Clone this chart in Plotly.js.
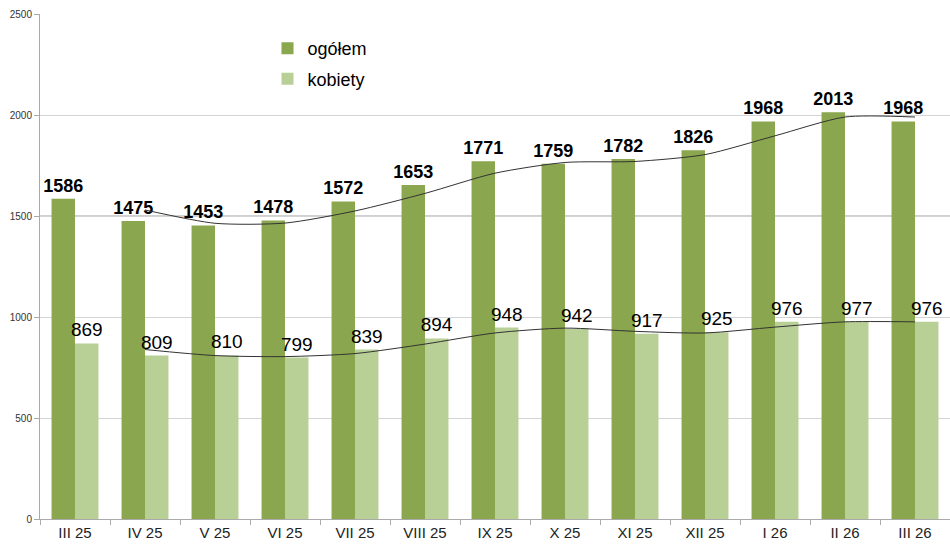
<!DOCTYPE html>
<html>
<head>
<meta charset="utf-8">
<script src="https://cdn.plot.ly/plotly-3.0.1.min.js"></script>
<style>html,body{margin:0;padding:0;background:#fff;}#chart{width:950px;height:544px;}</style>
</head>
<body>
<div id="chart"></div>
<script>
const categories = ["III 25","IV 25","V 25","VI 25","VII 25","VIII 25","IX 25","X 25","XI 25","XII 25","I 26","II 26","III 26"];
const ogolem = [1586,1475,1453,1478,1572,1653,1771,1759,1782,1826,1968,2013,1968];
const kobiety = [869,809,810,799,839,894,948,942,917,925,976,977,976];
// trend lines (start at IV 25)
const trendCategories = ["IV 25","V 25","VI 25","VII 25","VIII 25","IX 25","X 25","XI 25","XII 25","I 26","II 26","III 26"];
const trendOgolem = [1530,1464,1465,1525,1612,1712,1765,1770,1804,1897,1990,1990];
const trendKobiety = [839,809,804,819,866,921,945,929,921,950,976,976];
const yTicks = [0,500,1000,1500,2000,2500];

const darkGreen = "#8aa64e";
const lightGreen = "#b8cf96";

const traces = [
  {type:"bar", name:"ogółem", legendgroup:"a", x:categories, y:ogolem, marker:{color:darkGreen},
   text:ogolem.map(String), textposition:"outside", cliponaxis:false, constraintext:"none",
   textfont:{family:"Liberation Sans, Arial, sans-serif", size:18, color:"#000", weight:"bold"}},
  {type:"bar", name:"kobiety", legendgroup:"b", x:categories, y:kobiety, marker:{color:lightGreen},
   text:kobiety.map(String), textposition:"outside", cliponaxis:false, constraintext:"none",
   textfont:{family:"Liberation Sans, Arial, sans-serif", size:19, color:"#000"}},
  {type:"scatter", mode:"lines", x:trendCategories, y:trendOgolem, showlegend:false,
   line:{color:"#333", width:1, shape:"spline", smoothing:0.7}, hoverinfo:"skip"},
  {type:"scatter", mode:"lines", x:trendCategories, y:trendKobiety, showlegend:false,
   line:{color:"#333", width:1, shape:"spline", smoothing:0.7}, hoverinfo:"skip"}
];

const layout = {
  width:950, height:544,
  margin:{l:40, r:0, t:14, b:25},
  paper_bgcolor:"#fff", plot_bgcolor:"#fff",
  barmode:"group", bargap:0.33, bargroupgap:0,
  font:{family:"Liberation Sans, Arial, sans-serif", color:"#222"},
  showlegend:true,
  legend:{x:0.25, y:0.968, xanchor:"left", yanchor:"top", bgcolor:"rgba(0,0,0,0)",
          font:{size:18, color:"#000"}, tracegroupgap:4, itemwidth:30},
  xaxis:{type:"category", tickson:"boundaries", ticks:"outside", ticklen:5, tickcolor:"#aaa",
         showline:true, linecolor:"#aaa", tickfont:{size:15, color:"#222"}, showgrid:false,
         automargin:false},
  yaxis:{range:[0,2500], tickvals:yTicks, ticktext:yTicks.map(String), ticks:"outside", ticklen:5,
         tickcolor:"#aaa", showline:true, linecolor:"#aaa", gridcolor:"#d4d4d4", gridwidth:1,
         tickfont:{size:10, color:"#333"}, zeroline:false, automargin:false},
  shapes:[{type:"line", xref:"paper", x0:0, x1:1, yref:"y", y0:1500, y1:1500,
           line:{color:"#a0a0a0", width:1}, layer:"below"}]
};

Plotly.newPlot("chart", traces, layout, {displayModeBar:false, staticPlot:true});
</script>
</body>
</html>
